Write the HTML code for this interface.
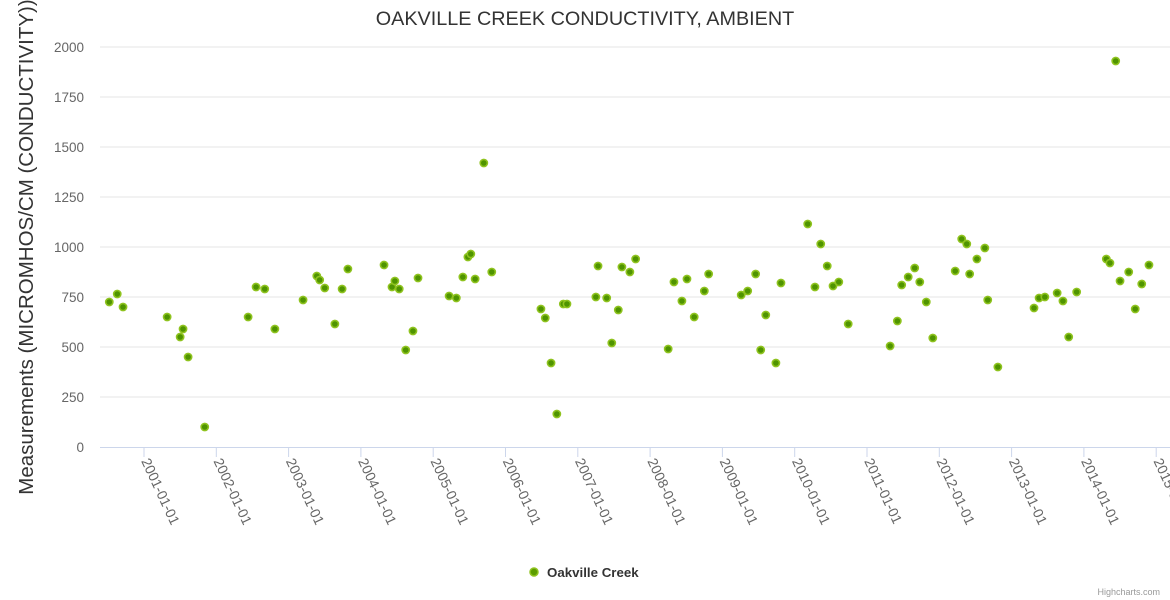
<!DOCTYPE html>
<html><head><meta charset="utf-8"><style>
html,body{margin:0;padding:0;background:#fff;}
svg{display:block;font-family:"Liberation Sans",sans-serif;}
</style></head><body>
<svg id="chart" width="1170" height="600">
<text x="585" y="25" text-anchor="middle" font-size="19.8" fill="#333">OAKVILLE CREEK CONDUCTIVITY, AMBIENT</text>
<g id="grid"></g><g id="yl"></g><g id="xl"></g><g id="pts"></g>
<text transform="translate(33,247) rotate(-90)" text-anchor="middle" font-size="20.5" fill="#333">Measurements (MICROMHOS/CM (CONDUCTIVITY))</text>
<g>
<circle cx="534" cy="572" r="4" fill="#5b9c00" stroke="#8fc31f" stroke-width="1.5"/>
<text x="547" y="577" font-size="13.3" font-weight="bold" fill="#333">Oakville Creek</text></g>
<text x="1160" y="595" text-anchor="end" font-size="9" fill="#999">Highcharts.com</text>
</svg>
<script>
const years=[2000.52,2000.63,2000.71,2001.32,2001.50,2001.54,2001.61,2001.84,2002.44,2002.55,2002.67,2002.81,2003.20,2003.39,2003.43,2003.50,2003.64,2003.74,2003.82,2004.32,2004.43,2004.47,2004.53,2004.62,2004.72,2004.79,2005.22,2005.32,2005.41,2005.48,2005.52,2005.58,2005.70,2005.81,2006.49,2006.55,2006.63,2006.71,2006.80,2006.85,2007.25,2007.28,2007.40,2007.47,2007.56,2007.61,2007.72,2007.80,2008.25,2008.33,2008.44,2008.51,2008.61,2008.75,2008.81,2009.26,2009.35,2009.46,2009.53,2009.60,2009.74,2009.81,2010.18,2010.28,2010.36,2010.45,2010.53,2010.61,2010.74,2011.32,2011.42,2011.48,2011.57,2011.66,2011.73,2011.82,2011.91,2012.22,2012.31,2012.38,2012.42,2012.52,2012.63,2012.67,2012.81,2013.31,2013.38,2013.46,2013.63,2013.71,2013.79,2013.90,2014.31,2014.36,2014.44,2014.50,2014.62,2014.71,2014.80,2014.90];
const values=[725,765,700,650,550,590,450,100,650,800,790,590,735,855,835,795,615,790,890,910,800,830,790,485,580,845,755,745,850,950,965,840,1420,875,690,645,420,165,715,715,750,905,745,520,685,900,875,940,490,825,730,840,650,780,865,760,780,865,485,660,420,820,1115,800,1015,905,805,825,615,505,630,810,850,895,825,725,545,880,1040,1015,865,940,995,735,400,695,745,750,770,730,550,775,940,920,1930,830,875,690,815,910];
const yTicks=[0,250,500,750,1000,1250,1500,1750,2000];
const xTicks=[2001,2002,2003,2004,2005,2006,2007,2008,2009,2010,2011,2012,2013,2014,2015];
const NS="http://www.w3.org/2000/svg";
const X0=100,X1=1170,Y0=447,Y1=47;
const xs=y=>144+(y-2001)*72.3;
const ys=v=>Y0-(v/2000)*(Y0-Y1);
function mk(t,a,p){const e=document.createElementNS(NS,t);for(const k in a)e.setAttribute(k,a[k]);p.appendChild(e);return e;}
const grid=document.getElementById('grid'),yl=document.getElementById('yl'),xl=document.getElementById('xl'),pts=document.getElementById('pts');
yTicks.forEach(v=>{
 if(v>0){const l=mk('line',{x1:X0,x2:X1,y1:ys(v),y2:ys(v),stroke:'#e6e6e6'},grid);
 
 }
 const t=mk('text',{x:84,y:ys(v)+5,'text-anchor':'end','font-size':13.5,fill:'#666'},yl);
 
 
 t.textContent=v;
});
const ax=mk('line',{x1:X0,x2:X1,y1:Y0+0.5,y2:Y0+0.5,stroke:'#ccd6eb'},grid);


xTicks.forEach(y=>{
 const x=xs(y);
 const tk=mk('line',{x1:x,x2:x,y1:Y0,y2:Y0+10,stroke:'#ccd6eb'},xl);
 
 
 const t=mk('text',{transform:`translate(${x-3},${Y0+14}) rotate(65)`,'font-size':14,fill:'#666'},xl);
 
 
 t.textContent=y+'-01-01';
});
years.forEach((y,i)=>{
 const c=mk('circle',{cx:xs(y),cy:ys(values[i]),r:3.6,fill:'#4f9400',stroke:'#8fc31f','stroke-width':1.6},pts);
 
 
});
</script>
</body></html>
